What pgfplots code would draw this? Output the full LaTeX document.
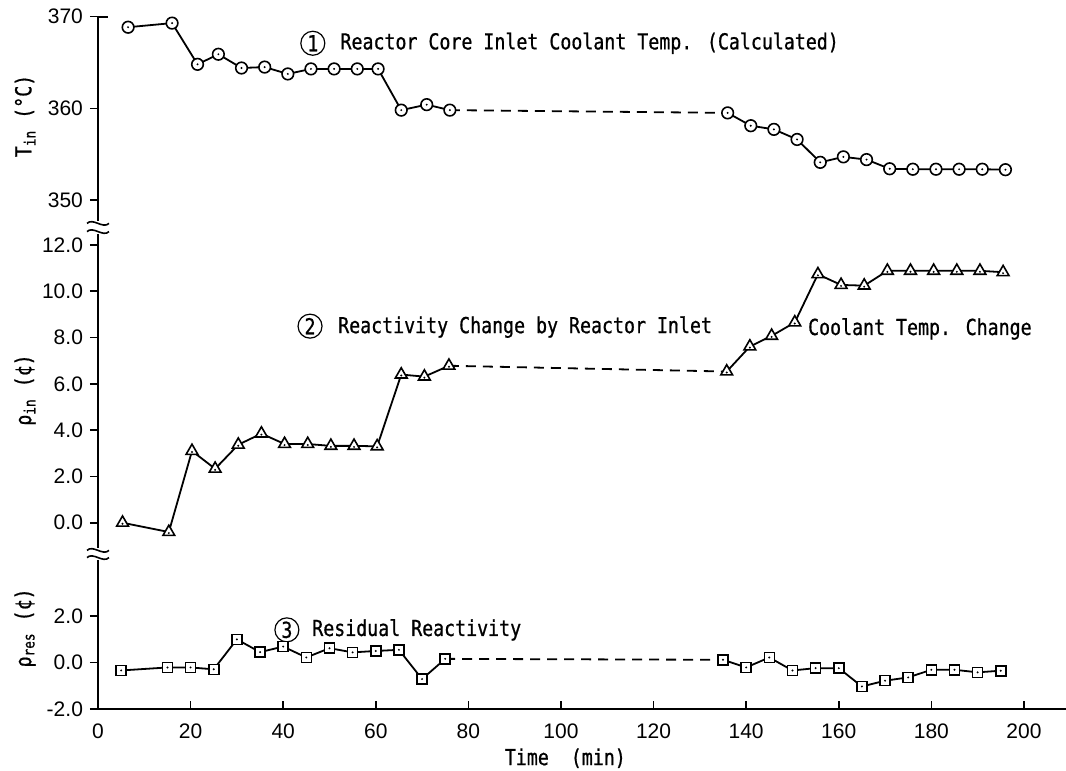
\documentclass[border=0pt]{standalone}
\usepackage{pgfplots}
\pgfplotsset{compat=1.18}
\usepackage{fontspec}
\setmainfont{Liberation Sans}
\newfontfamily\tw[FakeStretch=0.83,FakeBold=0.8]{DejaVu Sans Mono}

% plot marks with a centre dot
\pgfdeclareplotmark{codot}{%
  \pgfpathcircle{\pgfpointorigin}{\pgfplotmarksize}%
  \pgfusepathqfillstroke
  \begin{pgfscope}\pgfsetfillcolor{black}%
  \pgfpathcircle{\pgfpointorigin}{0.55pt}%
  \pgfusepathqfill\end{pgfscope}}
\pgfdeclareplotmark{tdot}{%
  \pgfpathmoveto{\pgfqpointpolar{90}{\pgfplotmarksize}}%
  \pgfpathlineto{\pgfqpointpolar{210}{\pgfplotmarksize}}%
  \pgfpathlineto{\pgfqpointpolar{330}{\pgfplotmarksize}}%
  \pgfpathclose
  \pgfusepathqfillstroke
  \begin{pgfscope}\pgfsetfillcolor{black}%
  \pgfpathcircle{\pgfpoint{0pt}{-0.15\pgfplotmarksize}}{0.55pt}%
  \pgfusepathqfill\end{pgfscope}}
\pgfdeclareplotmark{sdot}{%
  \pgfpathrectangle{\pgfpoint{-\pgfplotmarksize}{-\pgfplotmarksize}}{\pgfpoint{2\pgfplotmarksize}{2\pgfplotmarksize}}%
  \pgfusepathqfillstroke
  \begin{pgfscope}\pgfsetfillcolor{black}%
  \pgfpathcircle{\pgfpointorigin}{0.55pt}%
  \pgfusepathqfill\end{pgfscope}}

\tikzset{
  cnum/.style={draw, circle, line width=0.6pt, minimum size=12pt, inner sep=0pt, font=\tw\fontsize{11}{13}\selectfont},
  ann/.style={anchor=west, inner sep=0pt, font=\tw\fontsize{11}{13}\selectfont},
}

\pgfplotsset{
  panel/.style={
    scale only axis, width=483.8pt,
    xmin=0, xmax=209,
    axis y line=left,
    ytick align=outside, major tick length=4pt,
    tick style={line width=0.8pt, black},
    ticklabel style={font=\fontsize{10.5}{12}\selectfont},
    /pgf/number format/assume math mode=true,
    label style={font=\tw\fontsize{11}{13}\selectfont},
    clip=false,
  },
  seg/.style={black, line width=0.9pt, mark options={solid, fill=white, line width=0.8pt}},
  gap/.style={black, line width=0.9pt, dash pattern=on 5pt off 3.5pt},
}

\begin{document}
\begin{tikzpicture}
\useasboundingbox (0,0) rectangle (533pt,385.5pt);

% (1) reactor core inlet coolant temperature
\begin{axis}[panel, name=top,
  at={(49pt,275pt)}, anchor=south west, height=102.15pt,
  ymin=347.7, ymax=370,
  axis x line=none,
  axis line style={-, line width=0.9pt},
  ytick={350,360,370}, yticklabels={350,360,370},
  ylabel={T\textsubscript{in} (°C)},
  ylabel style={at={(axis description cs:-0.0754,0.514)}, anchor=center},
]
\addplot[gap] coordinates {(76,359.8) (136,359.5)};
\addplot[seg, mark=codot, mark size=2.9pt] coordinates {
(6.5,368.85) (16,369.3) (21.5,364.8) (26,365.9) (31,364.4) (36,364.5)
(41,363.75) (46,364.3) (51,364.3) (56,364.3) (60.5,364.3) (65.5,359.8)
(71,360.4) (76,359.8)};
\addplot[seg, mark=codot, mark size=2.9pt] coordinates {
(136,359.5) (141,358.1) (146,357.7) (151,356.6) (156,354.1) (161,354.7)
(166,354.4) (171,353.4) (176,353.35) (181,353.35) (186,353.35) (191,353.35)
(196,353.3)};
\node[cnum] at (axis cs:46.4,367.1) {1};
\node[ann] at (axis cs:52.3,367.1) {Reactor Core Inlet Coolant Temp. (Calculated)};
\end{axis}

% (2) reactivity change by inlet coolant temperature change
\begin{axis}[panel, name=mid,
  at={(49pt,111.5pt)}, anchor=south west, height=157pt,
  ymin=-1.09, ymax=12.47,
  axis x line=none,
  axis line style={-, line width=0.9pt},
  ytick={0,2,4,6,8,10,12}, yticklabels={0.0,2.0,4.0,6.0,8.0,10.0,12.0},
  ylabel={ρ\textsubscript{in} (¢)},
  ylabel style={at={(axis description cs:-0.0754,0.503)}, anchor=center},
]
\addplot[gap] coordinates {(75.8,6.78) (135.8,6.53)};
\addplot[seg, mark=tdot, mark size=3.4pt] coordinates {
(5.3,0.0) (15.3,-0.4) (20.3,3.1) (25.3,2.33) (30.3,3.37) (35.3,3.85)
(40.3,3.4) (45.3,3.4) (50.3,3.32) (55.3,3.32) (60.3,3.3) (65.5,6.4)
(70.5,6.31) (75.8,6.78)};
\addplot[seg, mark=tdot, mark size=3.4pt] coordinates {
(135.8,6.53) (140.8,7.61) (145.5,8.07) (150.5,8.65) (155.5,10.73) (160.5,10.27)
(165.5,10.24) (170.5,10.88) (175.5,10.88) (180.5,10.88) (185.5,10.88) (190.5,10.88)
(195.5,10.82)};
\node[cnum] at (axis cs:45.8,8.49) {2};
\node[ann] at (axis cs:51.8,8.45) {Reactivity Change by Reactor Inlet};
\node[ann] at (axis cs:153.3,8.37) {Coolant Temp. Change};
\end{axis}

% (3) residual reactivity
\begin{axis}[panel, name=bot,
  at={(49pt,31pt)}, anchor=south west, height=74.5pt,
  ymin=-2, ymax=4.42,
  axis x line=bottom, xtick align=inside,
  axis line style={-, line width=0.9pt},
  xtick={0,20,...,200}, xticklabels={0,20,40,60,80,100,120,140,160,180,200},
  ytick={-2,0,2}, yticklabels={-2.0,0.0,2.0},
  xticklabel style={yshift=-4pt},
  xlabel={Time\ \ (min)},
  xlabel style={at={(axis description cs:0.483,-0.33)}, anchor=center},
  ylabel={ρ\textsubscript{res} (¢)},
  ylabel style={at={(axis description cs:-0.0754,0.544)}, anchor=center},
]
\addplot[gap] coordinates {(75,0.16) (135,0.12)};
\addplot[seg, mark=sdot, mark size=2.5pt] coordinates {
(5,-0.34) (15,-0.21) (20,-0.21) (25,-0.29) (30,1.0) (35,0.45)
(40,0.69) (45,0.22) (50,0.62) (55,0.44) (60,0.5) (65,0.55)
(70,-0.71) (75,0.16)};
\addplot[seg, mark=sdot, mark size=2.5pt] coordinates {
(135,0.12) (140,-0.21) (145,0.22) (150,-0.34) (155,-0.24) (160,-0.24)
(165,-1.03) (170,-0.78) (175,-0.64) (180,-0.31) (185,-0.31) (190,-0.42)
(195,-0.35)};
\node[cnum] at (axis cs:40.8,1.41) {3};
\node[ann] at (axis cs:46.2,1.41) {Residual Reactivity};
\end{axis}

% cap at the top of the temperature scale
\draw[line width=0.9pt] (top.north west) -- ++(5pt,0);
% axis break marks
\foreach \p/\d in {top.south west/-1.2pt, mid.north west/1.2pt, mid.south west/-1.2pt, bot.north west/1.2pt}{
  \draw[line width=0.8pt] ([shift={(-5.5pt,\d)}]\p) .. controls ++(3pt,3pt) and ++(-3pt,-3pt) .. ++(11pt,0pt);
}
\end{tikzpicture}
\end{document}
